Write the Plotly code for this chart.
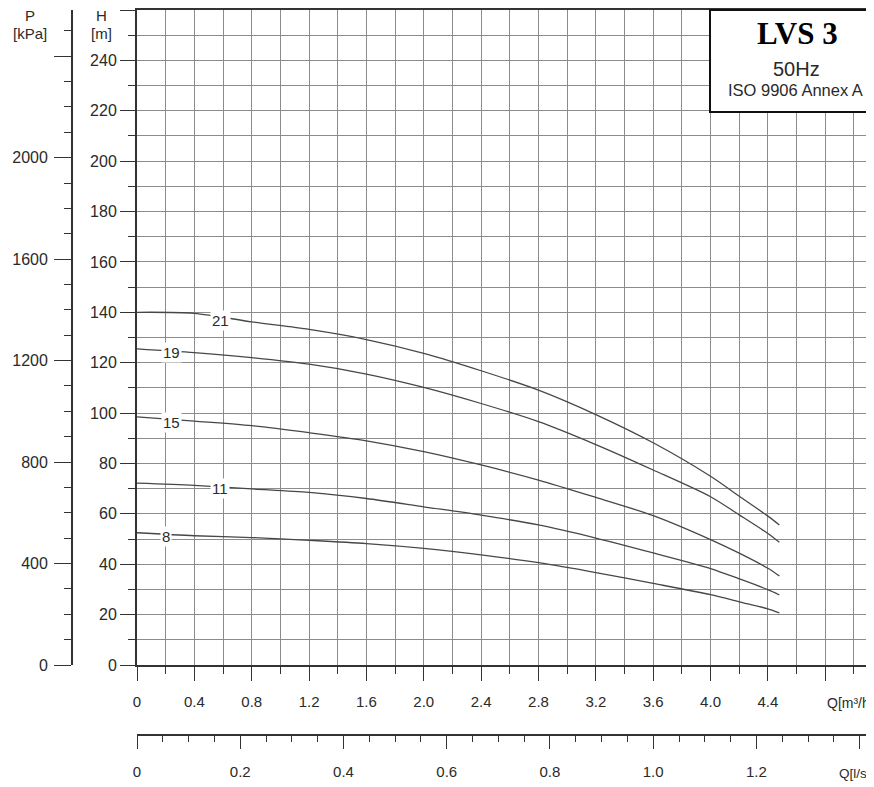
import plotly.graph_objects as go

# ---- data ----
Q = [0, 0.4, 0.8, 1.2, 1.6, 2.0, 2.4, 2.8, 3.2, 3.6, 4.0, 4.2, 4.4, 4.48]
H21 = [140, 139.6, 136.2, 133.2, 129.2, 123.7, 116.8, 109.1, 99.4, 88.2, 74.9, 67.0, 59.1, 55.6]
H19 = [125.5, 124.0, 122.0, 119.4, 115.5, 110.2, 103.8, 96.6, 87.5, 77.4, 66.8, 59.6, 52.2, 48.7]
H15 = [98.5, 96.8, 95.0, 92.2, 89.0, 84.7, 79.4, 73.4, 66.5, 59.3, 49.8, 44.4, 38.4, 35.3]
H11 = [72.2, 71.3, 69.9, 68.5, 66.1, 62.8, 59.5, 55.6, 50.4, 44.5, 38.3, 34.2, 29.9, 27.8]
H8 = [52.5, 51.3, 50.6, 49.5, 48.2, 46.3, 43.7, 40.6, 36.7, 32.4, 27.9, 25.1, 22.3, 20.7]
curve_names = ["21", "19", "15", "11", "8"]
curve_values = [H21, H19, H15, H11, H8]
label_q = [0.58, 0.24, 0.24, 0.58, 0.20]
label_h = [136.8, 123.9, 96.2, 70.1, 50.9]

q_m3h_ticks = [0, 0.4, 0.8, 1.2, 1.6, 2.0, 2.4, 2.8, 3.2, 3.6, 4.0, 4.4, 4.8]
q_m3h_text = ["0", "0.4", "0.8", "1.2", "1.6", "2.0", "2.4", "2.8", "3.2", "3.6", "4.0", "4.4", ""]
q_ls_ticks = [0, 0.2, 0.4, 0.6, 0.8, 1.0, 1.2, 1.4]
q_ls_text = ["0", "0.2", "0.4", "0.6", "0.8", "1.0", "1.2", ""]
h_ticks = [0, 20, 40, 60, 80, 100, 120, 140, 160, 180, 200, 220, 240, 260]
h_text = ["0", "20", "40", "60", "80", "100", "120", "140", "160", "180", "200", "220", "240", ""]
p_ticks = [0, 400, 800, 1200, 1600, 2000, 2400]
p_text = ["0", "400", "800", "1200", "1600", "2000", ""]

# ---- layout geometry (reference pixels; page body has an 8px margin) ----
OFF = 8
W, Hh = 874 - OFF, 787 - OFF


def px(x):
    return (x - OFF) / W


def py(y):
    return 1 - (y - OFF) / Hh


x_left, y_bottom, y_top = 137, 665, 10
q_max = 5.14
h_max = 260
p_max = 2582
dom_x = [px(x_left), 1.0]
dom_y = [py(y_bottom), py(y_top)]

FONT = "Liberation Sans, Arial, sans-serif"
TXT = "#2a2a2a"
GRID = "#8c8c8c"
AX = "#333333"
CURVE = "#474747"

fig = go.Figure()
for name, vals in zip(curve_names, curve_values):
    fig.add_trace(go.Scatter(x=Q, y=vals, mode="lines", name=name,
                             line=dict(color=CURVE, width=1.3, shape="spline", smoothing=0.8),
                             hoverinfo="skip", showlegend=False))
# invisible trace to activate the secondary axes (l/s and kPa)
fig.add_trace(go.Scatter(x=[0], y=[0], xaxis="x2", yaxis="y2", mode="markers",
                         marker=dict(opacity=0), hoverinfo="skip", showlegend=False))

for name, q, h in zip(curve_names, label_q, label_h):
    fig.add_annotation(x=q, y=h, text=name, showarrow=False, bgcolor="white",
                       xanchor="center", yanchor="middle",
                       borderpad=1, font=dict(family=FONT, size=15, color=TXT))

fig.update_layout(
    width=W, height=Hh, margin=dict(l=0, r=0, t=0, b=0, autoexpand=False),
    paper_bgcolor="white", plot_bgcolor="white", hovermode=False,
    xaxis=dict(domain=dom_x, range=[0, q_max], tickmode="array", automargin=False,
               tickvals=q_m3h_ticks, ticktext=q_m3h_text,
               ticks="outside", ticklen=14, tickwidth=1.3, tickcolor=AX,
               ticklabelstandoff=8,
               tickfont=dict(family=FONT, size=15, color=TXT),
               showgrid=True, gridcolor=GRID, gridwidth=1,
               showline=True, linecolor=AX, linewidth=2, mirror=True,
               zeroline=False,
               minor=dict(dtick=0.2, tick0=0, ticks="outside", ticklen=7,
                          tickcolor=AX, showgrid=True, gridcolor=GRID, gridwidth=1)),
    yaxis=dict(domain=dom_y, range=[0, h_max], tickmode="array", automargin=False,
               tickvals=h_ticks, ticktext=h_text,
               ticks="outside", ticklen=15, tickwidth=1.3, tickcolor=AX,
               tickfont=dict(family=FONT, size=16, color=TXT),
               showgrid=True, gridcolor=GRID, gridwidth=1,
               showline=True, linecolor=AX, linewidth=2,
               zeroline=False,
               minor=dict(dtick=10, tick0=0, ticks="outside", ticklen=7,
                          tickcolor=AX, showgrid=True, gridcolor=GRID, gridwidth=1)),
    xaxis2=dict(overlaying="x", anchor="free", position=py(735),
                domain=dom_x, side="bottom", automargin=False,
                range=[0, q_max / 3.6], tickmode="array",
                tickvals=q_ls_ticks, ticktext=q_ls_text,
                ticks="outside", ticklen=13, tickwidth=1.3, tickcolor=AX,
                ticklabelstandoff=10,
                tickfont=dict(family=FONT, size=15, color=TXT),
                showgrid=False, zeroline=False,
                showline=True, linecolor=AX, linewidth=1.8,
                minor=dict(dtick=0.05, tick0=0, ticks="outside", ticklen=6, tickcolor=AX)),
    yaxis2=dict(overlaying="y", anchor="free", position=px(72), side="left",
                domain=dom_y, range=[0, p_max], tickmode="array", automargin=False,
                tickvals=p_ticks, ticktext=p_text,
                ticks="outside", ticklen=17, tickwidth=1.3, tickcolor=AX,
                ticklabelstandoff=3,
                tickfont=dict(family=FONT, size=16, color=TXT),
                showgrid=False, zeroline=False,
                showline=True, linecolor=AX, linewidth=1.8,
                minor=dict(dtick=100, tick0=0, ticks="outside", ticklen=7, tickcolor=AX)),
)

# title box (top right)
fig.add_shape(type="rect", xref="paper", yref="paper",
              x0=px(710), x1=1.01, y0=py(112), y1=py(y_top),
              fillcolor="white", line=dict(color="#111111", width=2), layer="above")
box_texts = [
    ("<b>LVS 3</b>", 797, 33, "Liberation Serif, Times New Roman, serif", 31, "#000000"),
    ("50Hz", 796, 69, FONT, 20, TXT),
    ("ISO 9906 Annex A", 795, 90, FONT, 16.5, TXT),
]
for txt, xp, yp, fam, size, col in box_texts:
    fig.add_annotation(xref="paper", yref="paper", x=px(xp), y=py(yp), text=txt,
                       xanchor="center", yanchor="middle", showarrow=False,
                       font=dict(family=fam, size=size, color=col))

# axis titles
for txt, xp, yp in [("H", 101, 16), ("[m]", 101, 33), ("P", 30, 16), ("[kPa]", 30, 33)]:
    fig.add_annotation(xref="paper", yref="paper", x=px(xp), y=py(yp), text=txt,
                       xanchor="center", yanchor="middle", showarrow=False,
                       font=dict(family=FONT, size=15, color=TXT))
fig.add_annotation(xref="paper", yref="paper", x=px(825), y=py(703), xanchor="left",
                   yanchor="middle", text="Q[m³/h]", showarrow=False,
                   font=dict(family=FONT, size=14, color=TXT))
fig.add_annotation(xref="paper", yref="paper", x=px(837), y=py(773), xanchor="left",
                   yanchor="middle", text="Q[l/s]", showarrow=False,
                   font=dict(family=FONT, size=13.5, color=TXT))

fig.write_html("out.html")
